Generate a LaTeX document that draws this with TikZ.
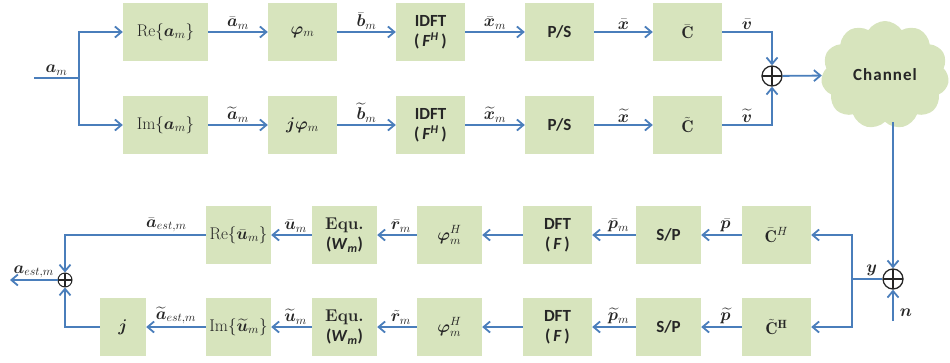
\RequirePackage{fix-cm}
\documentclass[tikz,border=0pt]{standalone}
\usepackage{fontspec}
\usepackage{amsmath,bm}
\setsansfont{Carlito}
\usetikzlibrary{arrows.meta,shapes.symbols}
\definecolor{boxgreen}{HTML}{D7E4BD}
\definecolor{lineblue}{HTML}{4A7EBB}
\definecolor{ink}{HTML}{262626}
\tikzset{
  box/.style={fill=boxgreen, minimum height=58, inner sep=0, text=ink,
    align=center, font=\fontsize{17}{20}\selectfont\sffamily\bfseries},
  arr/.style={draw=lineblue, line width=1.8,
    -{Straight Barb[length=6.5pt, width=11pt, line width=1.8pt]}},
  wire/.style={draw=lineblue, line width=1.8},
  lab/.style={above, inner sep=2pt, text=ink, font=\fontsize{17}{20}\selectfont},
  adder/.style={circle, draw=ink, line width=1.3, minimum size=20, inner sep=0,
    path picture={\draw[ink, line width=1.3]
      (path picture bounding box.north) -- (path picture bounding box.south)
      (path picture bounding box.west) -- (path picture bounding box.east);}},
}
\begin{document}
\begin{tikzpicture}[x=1pt, y=-1pt]
\useasboundingbox (0,0) rectangle (950,362);

% ---------- transmitter, real branch ----------
\node[box, minimum width=85] (re)   at (165.5,32) {\mdseries$\mathrm{Re}\{\bm a_m\}$};
\node[box, minimum width=69] (phi)  at (302.5,32) {$\bm\varphi_m$};
\node[box, minimum width=69] (idft) at (430.5,32) {IDFT\\(\,\textit{F}\textsuperscript{\textit{H}}\,)};
\node[box, minimum width=69] (ps)   at (559.5,32) {P/S};
\node[box, minimum width=69] (cb)   at (687.5,32) {$\bar{\mathbf C}$};

% ---------- transmitter, imaginary branch ----------
\node[box, minimum width=85] (im)    at (165.5,125) {\mdseries$\mathrm{Im}\{\bm a_m\}$};
\node[box, minimum width=69] (jphi)  at (302.5,125) {$\bm j\bm\varphi_m$};
\node[box, minimum width=69] (idft2) at (430.5,125) {IDFT\\(\,\textit{F}\textsuperscript{\textit{H}}\,)};
\node[box, minimum width=69] (ps2)   at (559.5,125) {P/S};
\node[box, minimum width=69] (ct)    at (687.5,125) {$\tilde{\mathbf C}$};

% input split
\coordinate (ain) at (34,78);
\coordinate (asplit) at (79,78);
\draw[wire] (ain) -- node[lab]{$\bm a_m$} (asplit);
\draw[arr] (asplit) |- (re.west);
\draw[arr] (asplit) |- (im.west);

\draw[arr] (re) -- node[lab]{$\bar{\bm a}_m$} (phi);
\draw[arr] (phi) -- node[lab]{$\bar{\bm b}_m$} (idft);
\draw[arr] (idft) -- node[lab]{$\bar{\bm x}_m$} (ps);
\draw[arr] (ps) -- node[lab]{$\bar{\bm x}$} (cb);

\draw[arr] (im) -- node[lab]{$\widetilde{\bm a}_m$} (jphi);
\draw[arr] (jphi) -- node[lab]{$\widetilde{\bm b}_m$} (idft2);
\draw[arr] (idft2) -- node[lab]{$\widetilde{\bm x}_m$} (ps2);
\draw[arr] (ps2) -- node[lab]{$\widetilde{\bm x}$} (ct);

% combiner and channel
\node[adder] (add1) at (772,76) {};
\draw[arr] (cb.east) -| node[lab, pos=0.25]{$\bar{\bm v}$} (add1.north);
\draw[arr] (ct.east) -| node[lab, pos=0.25]{$\widetilde{\bm v}$} (add1.south);
\node[cloud, cloud puffs=11, cloud puff arc=115, aspect=1.25, fill=boxgreen,
      minimum width=128, minimum height=108, inner sep=0, text=ink,
      font=\fontsize{17}{20}\selectfont\sffamily\bfseries\addfontfeatures{LetterSpace=6}]
      (chan) at (885,75) {Channel};
\draw[arr] (add1) -- (chan);

% noise adder
\node[adder] (add2) at (893,279) {};
\draw[arr] (chan.south -| add2) -- (add2.north);
\coordinate (nsrc) at (893,321);
\draw[arr] (nsrc) -- (add2.south);
\node[text=ink, font=\fontsize{17}{20}\selectfont] (nlab) at (906,313) {$\bm n$};

% ---------- receiver, real branch ----------
\node[box, minimum width=69] (chb)  at (776.5,235) {$\bar{\mathbf C}^{H}$};
\node[box, minimum width=65] (sp)   at (668.5,235) {S/P};
\node[box, minimum width=69] (dft)  at (557.5,235) {DFT\\(\,\textit{F}\,)};
\node[box, minimum width=65] (phih) at (449.5,235) {$\bm\varphi_m^H$};
\node[box, minimum width=65] (equ)  at (344.5,235) {{\rmfamily Equ.}\\(\textit{W}\textsubscript{\itshape m})};
\node[box, minimum width=65] (reu)  at (238.5,235) {\mdseries$\mathrm{Re}\{\bar{\bm u}_m\}$};

% ---------- receiver, imaginary branch ----------
\node[box, minimum width=69] (cht)   at (776.5,327) {$\tilde{\mathbf C}^{\mathbf H}$};
\node[box, minimum width=65] (sp2)   at (668.5,327) {S/P};
\node[box, minimum width=69] (dft2)  at (557.5,327) {DFT\\(\,\textit{F}\,)};
\node[box, minimum width=65] (phih2) at (449.5,327) {$\bm\varphi_m^H$};
\node[box, minimum width=65] (equ2)  at (344.5,327) {{\rmfamily Equ.}\\(\textit{W}\textsubscript{\itshape m})};
\node[box, minimum width=65] (imu)   at (238.5,327) {\mdseries$\mathrm{Im}\{\widetilde{\bm u}_m\}$};
\node[box, minimum width=46] (jbox)  at (123,327) {$\bm j$};

% received signal split
\coordinate (ysplit) at (852,279);
\draw[wire] (add2.west) -- node[lab, pos=0.35]{$\bm y$} (ysplit);
\draw[arr] (ysplit) |- (chb.east);
\draw[arr] (ysplit) |- (cht.east);

\draw[arr] (chb) -- node[lab, pos=0.4]{$\bar{\bm p}$} (sp);
\draw[arr] (sp) -- node[lab, pos=0.4]{$\bar{\bm p}_m$} (dft);
\draw[arr] (dft) -- (phih);
\draw[arr] (phih) -- node[lab, pos=0.4]{$\bar{\bm r}_m$} (equ);
\draw[arr] (equ) -- node[lab, pos=0.4]{$\bar{\bm u}_m$} (reu);

\draw[arr] (cht) -- node[lab, pos=0.4]{$\widetilde{\bm p}$} (sp2);
\draw[arr] (sp2) -- node[lab, pos=0.4]{$\widetilde{\bm p}_m$} (dft2);
\draw[arr] (dft2) -- (phih2);
\draw[arr] (phih2) -- node[lab, pos=0.4]{$\tilde{\bm r}_m$} (equ2);
\draw[arr] (equ2) -- node[lab, pos=0.4]{$\widetilde{\bm u}_m$} (imu);
\draw[arr] (imu) -- node[lab, pos=0.5]{$\widetilde{\bm a}_{est,m}$} (jbox);

% output combiner
\node[adder, minimum size=14, line width=1] (addL) at (65,280) {};
\draw[arr] (reu.west) -| node[lab, pos=0.14]{$\bar{\bm a}_{est,m}$} (addL.north);
\draw[arr] (jbox.west) -| (addL.south);
\coordinate (aout) at (10,280);
\draw[arr] (addL) -- node[lab, inner sep=1pt]{$\bm a_{est,m}$} (aout);
\end{tikzpicture}
\end{document}
